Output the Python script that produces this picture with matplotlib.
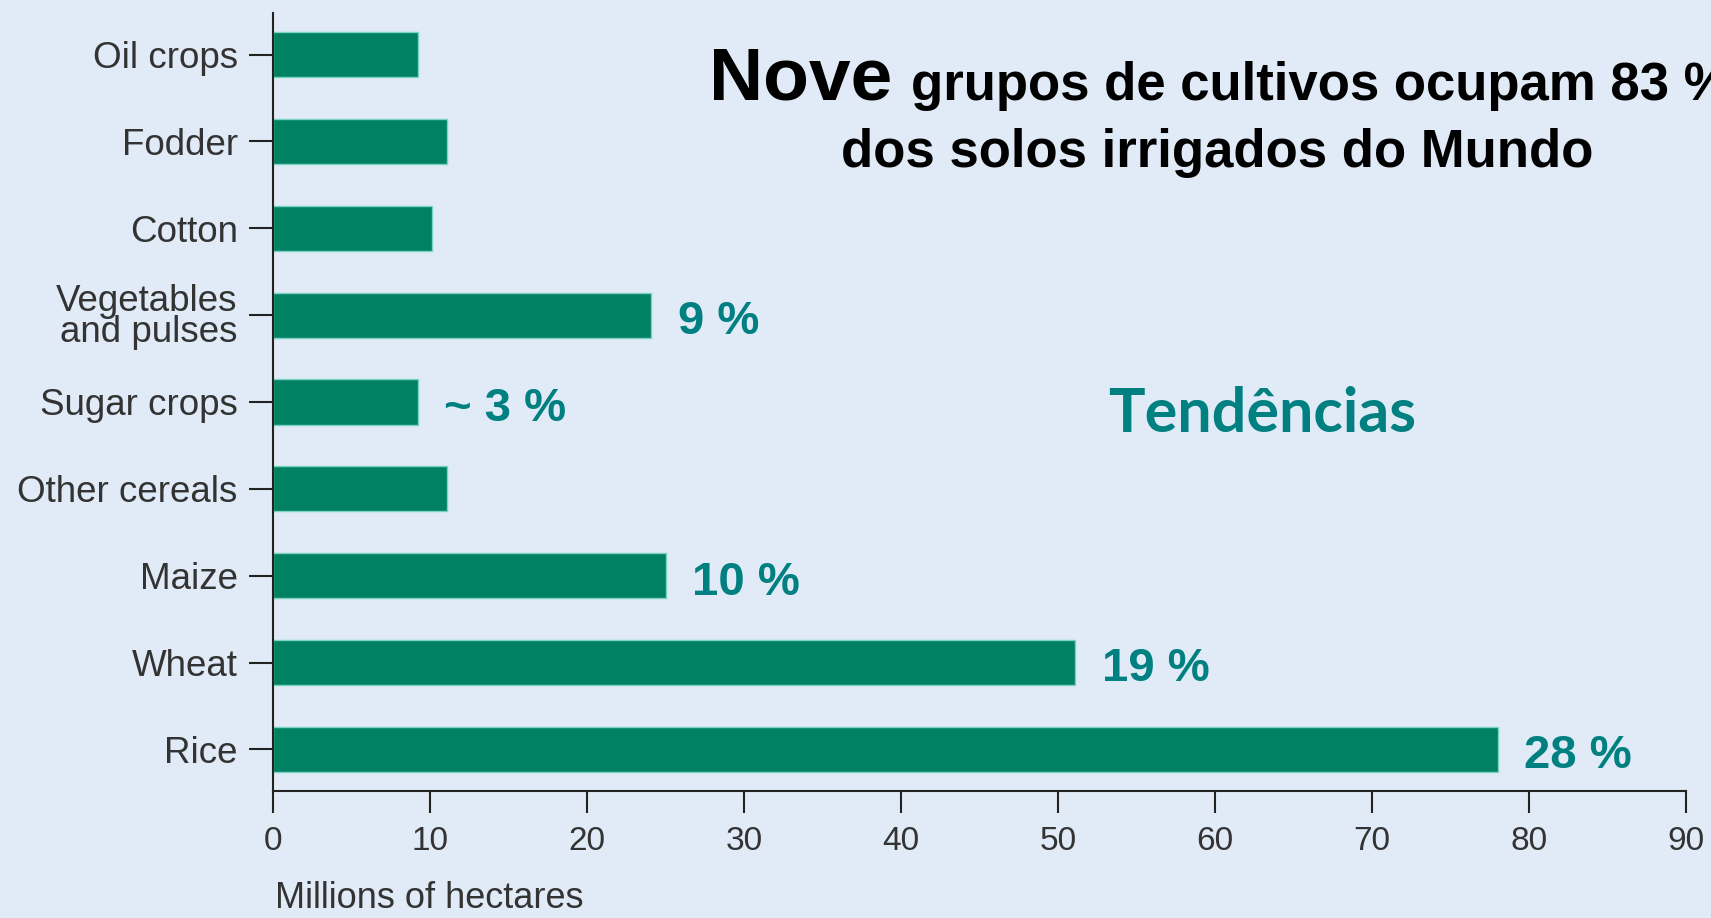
import numpy as np
import matplotlib.pyplot as plt

# crops from top to bottom as in the chart
crops = ['Oil crops', 'Fodder', 'Cotton', 'Vegetables\nand pulses', 'Sugar crops',
         'Other cereals', 'Maize', 'Wheat', 'Rice']
area = [9.2, 11.1, 10.1, 24.1, 9.2, 11.1, 25.0, 51.1, 78.0]   # millions of hectares
shares = ['', '', '', '9 %', '~ 3 %', '', '10 %', '19 %', '28 %']
xticks = [0, 10, 20, 30, 40, 50, 60, 70, 80, 90]

bg = '#E1EBF7'
bar_col = '#008262'
teal = '#008080'

plt.rcParams['font.family'] = ['Liberation Sans', 'DejaVu Sans']

fig = plt.figure(figsize=(17.11, 9.18), dpi=100, facecolor=bg)
ax = fig.add_axes([0.1596, 0.1383, 0.8258, 0.8477])
ax.set_facecolor(bg)

y = np.arange(len(crops))[::-1]
ax.barh(y, area, height=0.52, color=bar_col, edgecolor='#7ad3c2', linewidth=1)

for yi, v, s in zip(y, area, shares):
    if s:
        ax.annotate(s, (v, yi), xytext=(19, -5), textcoords='offset points',
                    ha='left', va='center', fontsize=34, fontweight='bold', color=teal)

ax.set_xlim(0, 90)
ax.set_ylim(-0.48, 8.48)
ax.set_xticks(xticks)
ax.set_xticklabels([str(t) for t in xticks])
ax.set_yticks(y)
ax.set_yticklabels(crops)
for lab in ax.get_yticklabels():
    lab.set_linespacing(0.85)

for sp in ['top', 'right']:
    ax.spines[sp].set_visible(False)
for sp in ['left', 'bottom']:
    ax.spines[sp].set_color('#222222')
    ax.spines[sp].set_linewidth(1.5)

ax.tick_params(axis='y', length=17, width=1.5, pad=8.5, labelsize=26.5,
               color='#222222', labelcolor='#333333')
ax.tick_params(axis='x', length=16, width=1.5, pad=9, labelsize=24,
               color='#222222', labelcolor='#333333')

fig.text(275 / 1711, 1 - 916 / 918, 'Millions of hectares', fontsize=26,
         color='#333333', ha='left', va='bottom')

# title (runs off the right edge, as in the original slide)
fig.text(709 / 1711, 1 - 100 / 918, 'Nove', fontsize=54, fontweight='bold',
         ha='left', va='baseline', color='black')
fig.text(911 / 1711, 1 - 100 / 918, 'grupos de cultivos ocupam 83 %', fontsize=38,
         fontweight='bold', ha='left', va='baseline', color='black')
fig.text(1217 / 1711, 1 - 167 / 918, 'dos solos irrigados do Mundo', fontsize=38,
         fontweight='bold', ha='center', va='baseline', color='black')

fig.text(1262 / 1711, 1 - 414 / 918, 'Tendências', fontsize=44, fontweight='bold',
         ha='center', va='center', color=teal, family=['Lato', 'DejaVu Sans'])

fig.savefig('out.png', dpi=100, facecolor=bg)
